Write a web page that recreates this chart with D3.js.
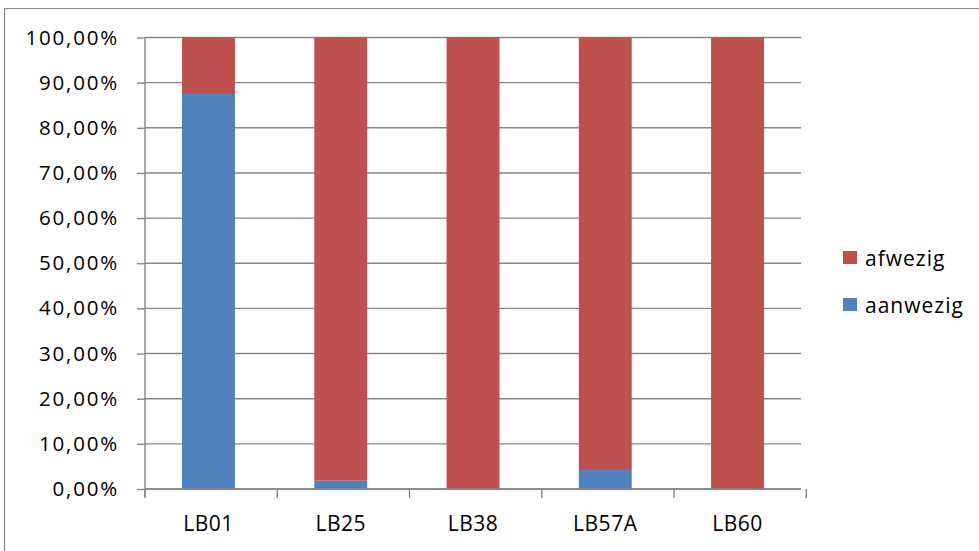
<!DOCTYPE html>
<html>
<head>
<meta charset="utf-8">
<script src="https://cdn.jsdelivr.net/npm/d3@7"></script>
<style>
  html, body { margin: 0; padding: 0; background: #fff; }
  svg { display: block; }
  text { font-family: "Open Sans", sans-serif; fill: #000; }
</style>
</head>
<body>
<svg id="chart" width="979" height="551"></svg>
<script>
// Stations and the share of samples where the species was present / absent
const categories = ["LB01", "LB25", "LB38", "LB57A", "LB60"];
const aanwezig = [0.875, 0.0185, 0.0, 0.042, 0.0];
const afwezig = [0.125, 0.9815, 1.0, 0.958, 1.0];
const seriesNames = ["aanwezig", "afwezig"];
const seriesColors = ["#4F81BD", "#C0504D"];
const yTicks = [0, 0.1, 0.2, 0.3, 0.4, 0.5, 0.6, 0.7, 0.8, 0.9, 1.0];

const svg = d3.select("#chart");
const plot = { left: 145, right: 801, top: 37.5, bottom: 489 };
const gridColor = "#868686";

// outer chart frame
svg.append("path")
  .attr("d", "M4.5,560 V8.5 H990")
  .attr("fill", "none").attr("stroke", gridColor).attr("stroke-width", 1.2);

const x = d3.scaleBand()
  .domain(categories)
  .range([plot.left, plot.right])
  .paddingInner(0.6)
  .paddingOuter(0.28);

const y = d3.scaleLinear()
  .domain([0, 1])
  .range([plot.bottom, plot.top]);

const fmt = v => d3.format(".2f")(v * 100).replace(".", ",") + "%";

// horizontal gridlines
svg.append("g")
  .selectAll("line")
  .data(yTicks)
  .join("line")
  .attr("x1", plot.left).attr("x2", plot.right)
  .attr("y1", d => y(d)).attr("y2", d => y(d))
  .attr("stroke", gridColor).attr("stroke-width", 1.4);

// stacked bars
const rows = categories.map((c, i) => ({ cat: c, aanwezig: aanwezig[i], afwezig: afwezig[i] }));
const stack = d3.stack().keys(seriesNames)(rows);

svg.append("g")
  .selectAll("g")
  .data(stack)
  .join("g")
  .attr("fill", (d, i) => seriesColors[i])
  .selectAll("rect")
  .data(d => d)
  .join("rect")
  .attr("x", d => x(d.data.cat))
  .attr("width", x.bandwidth())
  .attr("y", d => y(d[1]))
  .attr("height", d => y(d[0]) - y(d[1]));

// y axis
const yAxis = svg.append("g")
  .attr("transform", `translate(${plot.left},0)`)
  .call(d3.axisLeft(y).tickValues(yTicks).tickFormat(fmt).tickSize(8).tickPadding(18));
yAxis.select(".domain").attr("stroke", gridColor).attr("stroke-width", 1.4)
  .attr("d", `M0,${plot.top}V${plot.bottom + 8}`);
yAxis.selectAll(".tick line").attr("stroke", gridColor).attr("stroke-width", 1.4);
yAxis.selectAll(".tick text")
  .style("font-family", "'Open Sans', sans-serif")
  .style("font-size", "20.5px")
  .style("letter-spacing", "1.8px")
  .attr("fill", "#000");

// x axis: ticks sit between categories
const xAxis = svg.append("g").attr("transform", `translate(0,${plot.bottom})`);
xAxis.append("line")
  .attr("x1", plot.left).attr("x2", plot.right)
  .attr("stroke", gridColor).attr("stroke-width", 1.4);
const boundaries = d3.range(categories.length + 1).map(i => plot.left + i * x.step());
xAxis.selectAll("line.tick")
  .data(boundaries)
  .join("line")
  .attr("class", "tick")
  .attr("x1", d => d).attr("x2", d => d)
  .attr("y1", 0).attr("y2", 9)
  .attr("stroke", gridColor).attr("stroke-width", 1.4);
xAxis.selectAll("text")
  .data(categories)
  .join("text")
  .attr("x", d => x(d) + x.bandwidth() / 2)
  .attr("y", 42)
  .attr("text-anchor", "middle")
  .style("font-size", "21px")
  .style("letter-spacing", "0.5px")
  .text(d => d);

// legend (afwezig on top)
const legendItems = [
  { name: "afwezig", color: seriesColors[1] },
  { name: "aanwezig", color: seriesColors[0] }
];
const legend = svg.append("g").attr("transform", "translate(843,251)");
const li = legend.selectAll("g")
  .data(legendItems)
  .join("g")
  .attr("transform", (d, i) => `translate(0,${i * 47})`);
li.append("rect").attr("width", 14).attr("height", 13).attr("fill", d => d.color);
li.append("text")
  .attr("x", 22).attr("y", 15)
  .style("font-size", "21px")
  .style("letter-spacing", "1px")
  .text(d => d.name);
</script>
</body>
</html>
